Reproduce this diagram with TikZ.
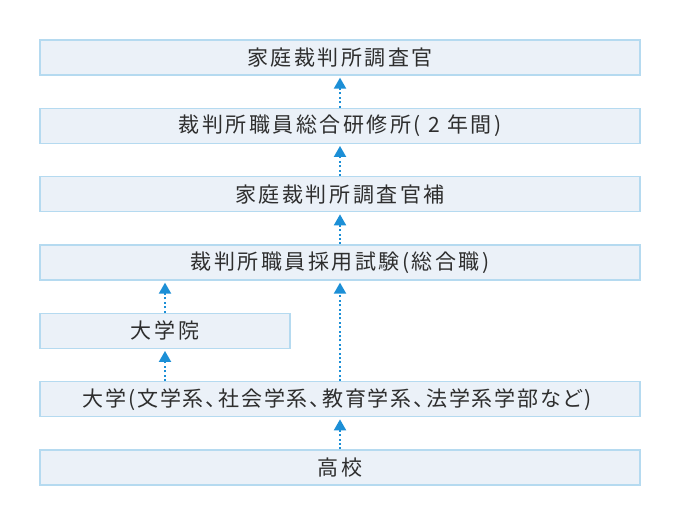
\documentclass[tikz,border=0pt]{standalone}
\usepackage{fontspec}
\setmainfont{Noto Sans CJK JP}[RawFeature=+palt,LetterSpace=12]
\usetikzlibrary{arrows.meta}
\definecolor{boxfill}{HTML}{EBF1F8}
\definecolor{boxline}{HTML}{B5DAF0}
\definecolor{arrowc}{HTML}{1C8FD6}
\definecolor{textc}{HTML}{2E2E2E}
\begin{document}
\begin{tikzpicture}[x=1pt,y=-1pt,
  stage/.style={draw=boxline,fill=boxfill,line width=1.3pt,rectangle,minimum width=600pt,minimum height=35pt,inner sep=0pt,text=textc,font=\fontsize{21pt}{24pt}\selectfont},
  halfstage/.style={stage,minimum width=250pt},
  tightstage/.style={stage,font=\fontsize{21pt}{24pt}\selectfont\addfontfeature{LetterSpace=9}},
  uparrow/.style={draw=arrowc,line width=2pt,dash pattern=on 2pt off 2.4pt,-{Triangle[width=12pt,length=11pt]},shorten >=2pt}]
\useasboundingbox (0,0) rectangle (680,525);
\node[stage] (kan) at (340,57.5) {家庭裁判所調査官};
\node[stage] (ken) at (340,125.8) {裁判所職員総合研修所( 2 年間)};
\node[stage] (ho) at (340,194.2) {家庭裁判所調査官補};
\node[stage] (shi) at (340,262.5) {裁判所職員採用試験(総合職)};
\node[halfstage] (grad) at (165,330.8) {大学院};
\node[tightstage] (univ) at (340,399.2) {\hspace*{-6pt}大学(文学系、社会学系、教育学系、法学系学部など)};
\node[stage] (hs) at (340,467.5) {高校};
\draw[uparrow] (ken.north) -- (kan.south);
\draw[uparrow] (ho.north) -- (ken.south);
\draw[uparrow] (shi.north) -- (ho.south);
\draw[uparrow] (grad.north) -- (grad.north |- shi.south);
\draw[uparrow] (grad.south |- univ.north) -- (grad.south);
\draw[uparrow] (univ.north) -- (shi.south);
\draw[uparrow] (hs.north) -- (univ.south);
\end{tikzpicture}
\end{document}
